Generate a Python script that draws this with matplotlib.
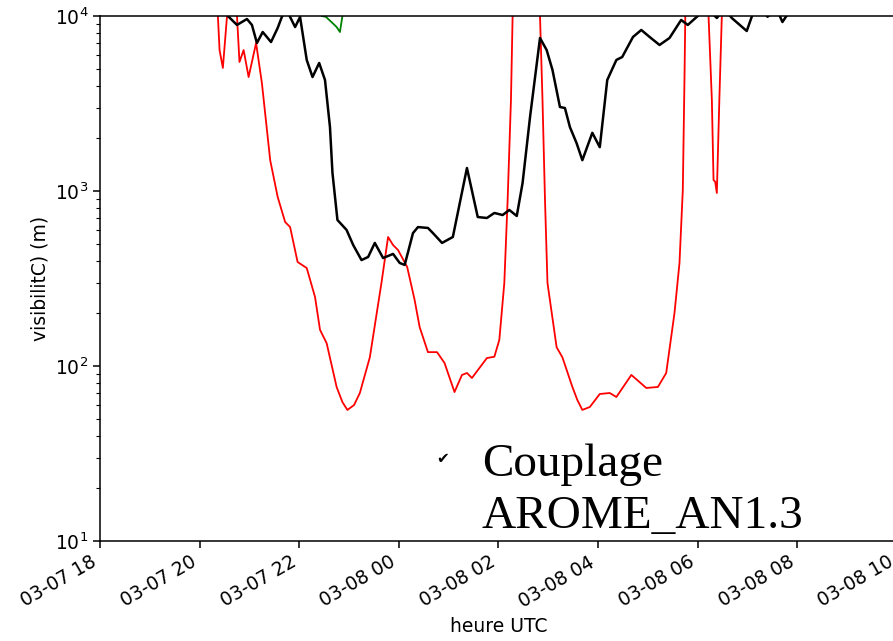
import pandas as pd
import matplotlib
matplotlib.use("Agg")
import matplotlib.pyplot as plt
import matplotlib.dates as mdates

# visibilite simulee (m), heures UTC
black_t = ["03-07 20:20", "03-07 20:34", "03-07 20:45", "03-07 20:57", "03-07 21:03", "03-07 21:09",
           "03-07 21:16", "03-07 21:26", "03-07 21:34", "03-07 21:39", "03-07 21:44", "03-07 21:49",
           "03-07 21:55", "03-07 22:01", "03-07 22:09", "03-07 22:16", "03-07 22:24", "03-07 22:31",
           "03-07 22:37", "03-07 22:40", "03-07 22:46", "03-07 22:57", "03-07 23:05", "03-07 23:15",
           "03-07 23:23", "03-07 23:31", "03-07 23:41", "03-07 23:53", "03-08 00:01", "03-08 00:07",
           "03-08 00:17", "03-08 00:23", "03-08 00:35", "03-08 00:41", "03-08 00:52", "03-08 01:05",
           "03-08 01:22", "03-08 01:35", "03-08 01:46", "03-08 01:55", "03-08 02:05", "03-08 02:13",
           "03-08 02:22", "03-08 02:29", "03-08 02:38", "03-08 02:50", "03-08 02:58", "03-08 03:05",
           "03-08 03:14", "03-08 03:20", "03-08 03:26", "03-08 03:34", "03-08 03:41", "03-08 03:53",
           "03-08 04:02", "03-08 04:11", "03-08 04:22", "03-08 04:29", "03-08 04:42", "03-08 04:52",
           "03-08 05:02", "03-08 05:14", "03-08 05:26", "03-08 05:40", "03-08 05:48", "03-08 06:00",
           "03-08 06:08", "03-08 06:23", "03-08 06:32", "03-08 06:41", "03-08 06:59", "03-08 07:06",
           "03-08 07:14", "03-08 07:24", "03-08 07:35", "03-08 07:42", "03-08 07:48", "03-08 07:56",
           "03-08 10:00"]
black_v = [13000, 10000, 8890, 9610, 8890, 7010, 8100, 7100, 8540, 9870,
           11000, 9870, 8650, 9870, 5610, 4480, 5390, 4310, 2320, 1270,
           683, 599, 491, 403, 420, 505, 414, 437, 388, 378,
           575, 622, 615, 575, 505, 546, 1353, 710, 701, 749,
           729, 779, 720, 1111, 2650, 7490, 6390, 4920, 3020, 2980,
           2320, 1880, 1500, 2150, 1780, 4310, 5610, 5830, 7590, 8320,
           7590, 6830, 7490, 9490, 8890, 10000, 11500, 9740, 11000, 9740,
           8210, 10200, 11500, 9900, 11000, 9240, 10200, 12000, 13000]

red_t = ["03-07 20:15", "03-07 20:21", "03-07 20:22", "03-07 20:24", "03-07 20:28", "03-07 20:33",
         "03-07 20:36", "03-07 20:45", "03-07 20:48", "03-07 20:53", "03-07 20:59", "03-07 21:08",
         "03-07 21:15", "03-07 21:25", "03-07 21:34", "03-07 21:43", "03-07 21:49", "03-07 21:58",
         "03-07 22:09", "03-07 22:19", "03-07 22:25", "03-07 22:33", "03-07 22:45", "03-07 22:52",
         "03-07 22:58", "03-07 23:06", "03-07 23:13", "03-07 23:25", "03-07 23:39", "03-07 23:47",
         "03-07 23:53", "03-07 23:59", "03-08 00:10", "03-08 00:19", "03-08 00:25", "03-08 00:35",
         "03-08 00:46", "03-08 00:55", "03-08 01:07", "03-08 01:16", "03-08 01:22", "03-08 01:28",
         "03-08 01:46", "03-08 01:55", "03-08 02:01", "03-08 02:07", "03-08 02:11", "03-08 02:15",
         "03-08 02:17", "03-08 02:21", "03-08 02:44", "03-08 02:50", "03-08 02:53", "03-08 02:56",
         "03-08 02:59", "03-08 03:10", "03-08 03:17", "03-08 03:29", "03-08 03:35", "03-08 03:41",
         "03-08 03:50", "03-08 04:02", "03-08 04:14", "03-08 04:22", "03-08 04:40", "03-08 04:58",
         "03-08 05:12", "03-08 05:22", "03-08 05:32", "03-08 05:38", "03-08 05:42", "03-08 05:44",
         "03-08 05:45", "03-08 05:50", "03-08 06:08", "03-08 06:13", "03-08 06:17", "03-08 06:19",
         "03-08 06:21", "03-08 06:23", "03-08 06:26", "03-08 06:29", "03-08 06:32", "03-08 10:00"]
red_v = [15000, 11000, 10000, 6390, 5050, 10000, 12000, 10000, 5460, 6390,
         4480, 7010, 4140, 1500, 925, 665, 622, 393, 363, 248,
         161, 135, 75.9, 62.2, 56.1, 59.8, 70.1, 112, 298, 546,
         491, 460, 368, 238, 167, 120, 120, 104, 71, 88.9,
         91.2, 85.4, 111, 113, 141, 298, 889, 3310, 10000, 14000,
         14000, 10000, 3310, 889, 298, 128, 112, 75.9, 63.9, 56.1,
         58.3, 69.2, 70.1, 66.5, 88.9, 74.9, 75.9, 91.2, 201, 388,
         1014, 4310, 10000, 15000, 15000, 10000, 3310, 1156, 1130, 974,
         3310, 10000, 15000, 15000]

green_t = ["03-07 22:22", "03-07 22:27", "03-07 22:32", "03-07 22:40",
           "03-07 22:45", "03-07 22:49", "03-07 22:52", "03-07 22:55"]
green_v = [12000, 10000, 9900, 9120, 8650, 8100, 10000, 12000]


def to_dt(lst):
    return pd.to_datetime(["2021-" + s for s in lst], format="%Y-%m-%d %H:%M")


fs = 13.5
fig = plt.figure(figsize=(8.93, 6.41), dpi=100)
ax = fig.add_axes([100 / 893, 100 / 641, 797 / 893, 525 / 641])

ax.plot(to_dt(red_t), red_v, color="red", lw=1.3)
ax.plot(to_dt(black_t), black_v, color="black", lw=1.8)
ax.plot(to_dt(green_t), green_v, color="green", lw=1.3)

ax.set_yscale("log")
ax.set_ylim(10, 1e4)
ax.set_xlim(to_dt(["03-07 18:00"])[0], to_dt(["03-08 10:00"])[0])
ax.xaxis.set_major_locator(mdates.HourLocator(byhour=range(0, 24, 2)))
ax.xaxis.set_major_formatter(mdates.DateFormatter("%m-%d %H"))
plt.setp(ax.get_xticklabels(), rotation=30, ha="right")

ax.tick_params(which="major", labelsize=fs, length=4.8, width=1.1)
ax.tick_params(which="minor", length=2.7, width=0.8)
for s in ax.spines.values():
    s.set_linewidth(1.1)

ax.set_xlabel("heure UTC", fontsize=fs)
ax.set_ylabel("visibilitC) (m)", fontsize=fs)

# texte superpose (diapo)
fig.text(443 / 893, 1 - 458 / 641, "\u2714", fontsize=11, ha="center", va="center")
fig.text(482 / 893, 1 - 476 / 641, "Couplage", family="Liberation Serif", fontsize=34, va="baseline")
fig.text(482 / 893, 1 - 528 / 641, "AROME_AN1.3", family="Liberation Serif", fontsize=34, va="baseline")

fig.savefig("out.png", dpi=100)
